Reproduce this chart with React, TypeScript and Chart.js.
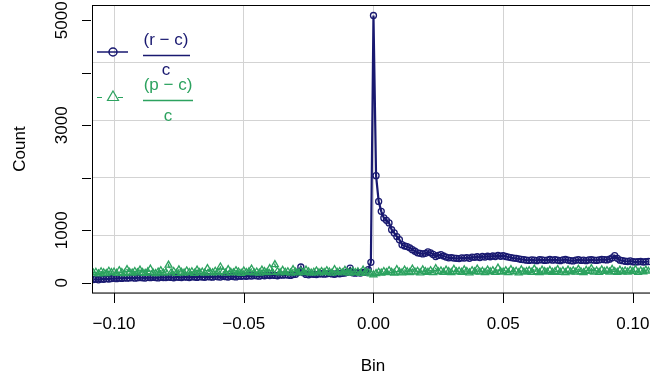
import React, { useEffect, useRef } from "react";
import { Chart, registerables } from "chart.js";

Chart.register(...registerables);

const bins: number[] = [
  -0.108, -0.107, -0.106, -0.105, -0.104, -0.103, -0.102, -0.101,
  -0.100, -0.099, -0.098, -0.097, -0.096, -0.095, -0.094, -0.093, -0.092, -0.091,
  -0.090, -0.089, -0.088, -0.087, -0.086, -0.085, -0.084, -0.083, -0.082, -0.081,
  -0.080, -0.079, -0.078, -0.077, -0.076, -0.075, -0.074, -0.073, -0.072, -0.071,
  -0.070, -0.069, -0.068, -0.067, -0.066, -0.065, -0.064, -0.063, -0.062, -0.061,
  -0.060, -0.059, -0.058, -0.057, -0.056, -0.055, -0.054, -0.053, -0.052, -0.051,
  -0.050, -0.049, -0.048, -0.047, -0.046, -0.045, -0.044, -0.043, -0.042, -0.041,
  -0.040, -0.039, -0.038, -0.037, -0.036, -0.035, -0.034, -0.033, -0.032, -0.031,
  -0.030, -0.029, -0.028, -0.027, -0.026, -0.025, -0.024, -0.023, -0.022, -0.021,
  -0.020, -0.019, -0.018, -0.017, -0.016, -0.015, -0.014, -0.013, -0.012, -0.011,
  -0.010, -0.009, -0.008, -0.007, -0.006, -0.005, -0.004, -0.003, -0.002, -0.001,
  0.000, 0.001, 0.002, 0.003, 0.004, 0.005, 0.006, 0.007, 0.008, 0.009,
  0.010, 0.011, 0.012, 0.013, 0.014, 0.015, 0.016, 0.017, 0.018, 0.019,
  0.020, 0.021, 0.022, 0.023, 0.024, 0.025, 0.026, 0.027, 0.028, 0.029,
  0.030, 0.031, 0.032, 0.033, 0.034, 0.035, 0.036, 0.037, 0.038, 0.039,
  0.040, 0.041, 0.042, 0.043, 0.044, 0.045, 0.046, 0.047, 0.048, 0.049,
  0.050, 0.051, 0.052, 0.053, 0.054, 0.055, 0.056, 0.057, 0.058, 0.059,
  0.060, 0.061, 0.062, 0.063, 0.064, 0.065, 0.066, 0.067, 0.068, 0.069,
  0.070, 0.071, 0.072, 0.073, 0.074, 0.075, 0.076, 0.077, 0.078, 0.079,
  0.080, 0.081, 0.082, 0.083, 0.084, 0.085, 0.086, 0.087, 0.088, 0.089,
  0.090, 0.091, 0.092, 0.093, 0.094, 0.095, 0.096, 0.097, 0.098, 0.099,
  0.100, 0.101, 0.102, 0.103, 0.104, 0.105, 0.106,
];

// (r - c) / c
const seriesRC: number[] = [
  60, 68, 55, 72, 65, 78, 72, 80,
  85, 78, 90, 82, 95, 88, 92, 98, 88, 94,
  100, 95, 90, 102, 96, 104, 98, 92, 106, 100,
  98, 108, 102, 95, 110, 104, 98, 112, 106, 100,
  114, 108, 102, 116, 110, 105, 118, 112, 106, 120,
  114, 108, 122, 116, 110, 124, 118, 112, 128, 122,
  130, 124, 134, 128, 138, 132, 126, 140, 134, 144,
  138, 146, 140, 134, 150, 144, 152, 146, 140, 155,
  160, 200, 300, 190, 158, 152, 165, 160, 155, 168,
  172, 164, 170, 178, 168, 162, 176, 172, 180, 184,
  200, 280, 190, 182, 192, 186, 196, 205, 250, 390,
  5090, 2040, 1550, 1360, 1235, 1190, 1140, 1010, 950, 880,
  820, 725, 700, 690, 665, 630, 600, 570, 560, 550,
  560, 590, 570, 540, 500, 520, 535, 510, 490, 475,
  480, 470, 465, 460, 475, 470, 480, 465, 490, 485,
  495, 480, 500, 490, 505, 495, 510, 500, 520, 505,
  515, 500, 490, 480, 470, 465, 455, 445, 440, 430,
  425, 435, 430, 420, 440, 435, 425, 430, 445, 430,
  440, 430, 420, 435, 445, 430, 420, 415, 430, 440,
  425, 430, 420, 435, 440, 430, 425, 435, 445, 440,
  435, 450, 475, 515, 465, 430, 420, 410, 405, 415,
  400, 395, 400, 405, 395, 400, 405,
];

// (p - c) / c
const seriesPC: number[] = [
  185, 200, 170, 210, 190, 175, 220, 195,
  205, 180, 230, 195, 175, 250, 200, 185, 215, 190,
  240, 195, 180, 210, 260, 190, 175, 205, 230, 185,
  200, 335, 190, 215, 180, 245, 200, 185, 225, 195,
  210, 180, 240, 195, 205, 185, 270, 200, 190, 220,
  195, 300, 215, 185, 250, 200, 190, 230, 205, 180,
  225, 195, 210, 260, 190, 205, 185, 240, 215, 195,
  270, 200, 345, 215, 190, 235, 200, 210, 185, 250,
  205, 190, 220, 195, 240, 210, 185, 200, 225, 190,
  215, 195, 230, 205, 185, 250, 200, 215, 190, 235,
  200, 185, 220, 195, 210, 180, 240, 205, 190, 170,
  150, 175, 200, 185, 215, 195, 230, 200, 185, 250,
  205, 190, 240, 210, 195, 260, 205, 220, 190, 245,
  215, 200, 230, 195, 270, 210, 225, 200, 240, 215,
  195, 255, 210, 220, 200, 245, 215, 190, 230, 210,
  260, 205, 220, 195, 240, 210, 230, 200, 280, 215,
  205, 230, 195, 250, 210, 220, 190, 245, 205, 215,
  230, 200, 260, 210, 195, 240, 215, 205, 235, 200,
  215, 250, 200, 225, 195, 240, 210, 230, 205, 255,
  210, 195, 235, 215, 270, 205, 225, 200, 245, 215,
  230, 205, 255, 215, 200, 240, 210, 225, 205, 235,
  215, 250, 200, 225, 210, 240, 220,
];

const xTickValues: number[] = [-0.1, -0.05, 0, 0.05, 0.1];
const yTickValues: number[] = [0, 1000, 2000, 3000, 4000, 5000];
const yTickLabelsShown: string[] = ["0", "1000", "", "3000", "", "5000"];

const BLUE = "#191970";
const GREEN = "#2ca25f";
const FONT = '17px "Liberation Sans", Arial, sans-serif';

function fmtX(v: number): string {
  const s = Math.abs(v).toFixed(2);
  return v < -1e-9 ? "\u2212" + s : s;
}

const decorPlugin = {
  id: "decor",
  afterDraw(chart: any) {
    const ctx = chart.ctx as CanvasRenderingContext2D;
    const xs = chart.scales.x;
    const ys = chart.scales.y;
    const ca = chart.chartArea;
    ctx.save();
    // box
    ctx.strokeStyle = "#000";
    ctx.lineWidth = 1;
    ctx.strokeRect(Math.round(ca.left) + 0.5, Math.round(ca.top) + 0.5, ca.right - ca.left + 10, ca.bottom - ca.top - 0.5);
    // x ticks
    ctx.fillStyle = "#000";
    ctx.font = FONT;
    ctx.textAlign = "center";
    ctx.textBaseline = "middle";
    xTickValues.forEach((v) => {
      const px = Math.round(xs.getPixelForValue(v)) + 0.5;
      ctx.beginPath();
      ctx.moveTo(px, ca.bottom);
      ctx.lineTo(px, ca.bottom + 10);
      ctx.stroke();
      ctx.fillText(fmtX(v), xs.getPixelForValue(v), ca.bottom + 31);
    });
    // y ticks
    yTickValues.forEach((v, i) => {
      const py = Math.round(ys.getPixelForValue(v)) + 0.5;
      ctx.beginPath();
      ctx.moveTo(ca.left - 10, py);
      ctx.lineTo(ca.left - 1, py);
      ctx.stroke();
      const lab = yTickLabelsShown[i];
      if (lab) {
        ctx.save();
        ctx.translate(ca.left - 30, ys.getPixelForValue(v));
        ctx.rotate(-Math.PI / 2);
        ctx.fillText(lab, 0, 0);
        ctx.restore();
      }
    });
    // axis titles
    ctx.fillText("Bin", 373, 366);
    ctx.save();
    ctx.translate(20, (ca.top + ca.bottom) / 2);
    ctx.rotate(-Math.PI / 2);
    ctx.fillText("Count", 0, 0);
    ctx.restore();

    // legend
    ctx.strokeStyle = BLUE;
    ctx.lineWidth = 1.5;
    ctx.beginPath();
    ctx.moveTo(97, 52);
    ctx.lineTo(128, 52);
    ctx.stroke();
    ctx.beginPath();
    ctx.arc(113, 52, 4, 0, Math.PI * 2);
    ctx.stroke();
    ctx.fillStyle = BLUE;
    ctx.fillText("(r \u2212 c)", 166, 40);
    ctx.beginPath();
    ctx.moveTo(143, 55.5);
    ctx.lineTo(190, 55.5);
    ctx.stroke();
    ctx.fillText("c", 166, 70);

    ctx.strokeStyle = GREEN;
    ctx.lineWidth = 1.2;
    ctx.setLineDash([5, 16]);
    ctx.beginPath();
    ctx.moveTo(97, 97.5);
    ctx.lineTo(128, 97.5);
    ctx.stroke();
    ctx.setLineDash([]);
    ctx.beginPath();
    ctx.moveTo(113, 91);
    ctx.lineTo(118.5, 100.5);
    ctx.lineTo(107.5, 100.5);
    ctx.closePath();
    ctx.stroke();
    ctx.fillStyle = GREEN;
    ctx.fillText("(p \u2212 c)", 168, 85);
    ctx.lineWidth = 1.5;
    ctx.beginPath();
    ctx.moveTo(143, 100.5);
    ctx.lineTo(193, 100.5);
    ctx.stroke();
    ctx.fillText("c", 168, 116);
    ctx.restore();
  },
};

export default function App() {
  const ref = useRef<HTMLCanvasElement | null>(null);
  useEffect(() => {
    if (!ref.current) return;
    const rc = bins.map((x, i) => ({ x, y: seriesRC[i] }));
    const pc = bins.map((x, i) => ({ x, y: seriesPC[i] }));
    const chart = new Chart(ref.current, {
      type: "line",
      data: {
        datasets: [
          {
            label: "(p-c)/c",
            data: pc,
            order: 0,
            borderColor: GREEN,
            borderWidth: 1.5,
            borderDash: [4, 4],
            pointStyle: "triangle",
            pointRadius: 4,
            pointBorderWidth: 1.3,
            pointBorderColor: GREEN,
            pointBackgroundColor: "rgba(0,0,0,0)",
            tension: 0,
          },
          {
            label: "(r-c)/c",
            data: rc,
            order: 1,
            borderColor: BLUE,
            borderWidth: 2.2,
            pointStyle: "circle",
            pointRadius: 3,
            pointBorderWidth: 1.3,
            pointBorderColor: BLUE,
            pointBackgroundColor: "rgba(0,0,0,0)",
            tension: 0,
          },
        ],
      },
      options: {
        animation: false,
        responsive: false,
        events: [],
        layout: { autoPadding: false, padding: { left: 92, top: 5, right: 0, bottom: 85 } },
        plugins: { legend: { display: false }, tooltip: { enabled: false } },
        scales: {
          x: {
            type: "linear",
            min: -0.1085,
            max: 0.1066,
            border: { display: false },
            grid: { color: "#d3d3d3", lineWidth: 1, drawTicks: false },
            ticks: { display: false, stepSize: 0.05, includeBounds: false },
          },
          y: {
            type: "linear",
            min: -195,
            max: 5290,
            border: { display: false },
            grid: { color: "#d3d3d3", lineWidth: 1, drawTicks: false },
            ticks: { display: false, stepSize: 1000, includeBounds: false },
          },
        },
      },
      plugins: [decorPlugin],
    });
    return () => chart.destroy();
  }, []);
  return (
    <div style={{ position: "fixed", left: 0, top: 0, width: 650, height: 378, background: "#fff" }}>
      <canvas ref={ref} width={650} height={378} style={{ display: "block" }} />
    </div>
  );
}
